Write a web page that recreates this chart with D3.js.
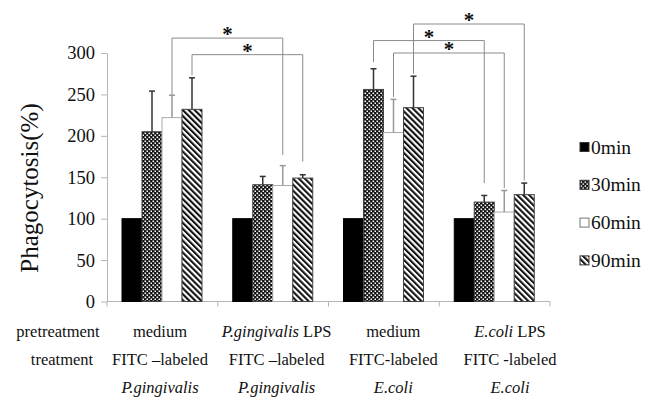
<html>
<head>
<script src="https://d3js.org/d3.v7.min.js"></script>
<style>
  body { margin: 0; background: #fff; }
</style>
</head>
<body>
<svg width="648" height="400"></svg>
<script>
// groups along the x axis
const categories = ["medium / P.gingivalis", "P.gingivalis LPS / P.gingivalis", "medium / E.coli", "E.coli LPS / E.coli"];
const series = ["0min", "30min", "60min", "90min"];

// bar heights (%) per series
const v0  = [100, 100, 100, 100];
const v30 = [205, 141, 256, 120];
const v60 = [222, 140, 204, 108];
const v90 = [232, 149, 234, 129];

// upper error (SD) per series
const e0  = [0, 0, 0, 0];
const e30 = [49, 10, 25, 8];
const e60 = [27, 24, 40, 26];
const e90 = [38, 4, 38, 14];

const yTicks = [0, 50, 100, 150, 200, 250, 300];

// labels under the axis, [text, italic]
const pretreatment = [
  [["medium", false]],
  [["P.gingivalis", true], [" LPS", false]],
  [["medium", false]],
  [["E.coli", true], [" LPS", false]]
];
const treatment = ["FITC \u2013labeled", "FITC \u2013labeled", "FITC-labeled", "FITC -labeled"];
const organism = ["P.gingivalis", "P.gingivalis", "E.coli", "E.coli"];

// significance brackets: group/series ends, bracket height, leg bottoms (in %)
const brackets = [
  { g1: 0, g2: 1, s: "60min", top: 318, left: 249, right: 177 },
  { g1: 0, g2: 1, s: "90min", top: 298, left: 273, right: 169 },
  { g1: 2, g2: 3, s: "30min", top: 315, left: 289, right: 143 },
  { g1: 2, g2: 3, s: "60min", top: 300, left: 247, right: 137 },
  { g1: 2, g2: 3, s: "90min", top: 335, left: 275, right: 146 }
];

const values = [v0, v30, v60, v90];
const errs = [e0, e30, e60, e90];

const serif = "'Liberation Serif', 'Times New Roman', Times, serif";
const ink = "#111";

const svg = d3.select("svg");
const defs = svg.append("defs");

// checker pattern for 30min
const chk = defs.append("pattern").attr("id", "chk")
  .attr("patternUnits", "userSpaceOnUse").attr("width", 4).attr("height", 4);
chk.append("rect").attr("width", 4).attr("height", 4).attr("fill", "#111");
chk.append("rect").attr("x", 0.5).attr("y", 0.5).attr("width", 1.6).attr("height", 1.6).attr("fill", "#fff");
chk.append("rect").attr("x", 2.5).attr("y", 2.5).attr("width", 1.6).attr("height", 1.6).attr("fill", "#fff");

// diagonal stripes for 90min
const str = defs.append("pattern").attr("id", "str")
  .attr("patternUnits", "userSpaceOnUse").attr("width", 4.2).attr("height", 4.2)
  .attr("patternTransform", "rotate(-45)");
str.append("rect").attr("width", 4.2).attr("height", 4.2).attr("fill", "#fff");
str.append("rect").attr("width", 2.1).attr("height", 4.2).attr("fill", "#111");

const fills = { "0min": "#000", "30min": "url(#chk)", "60min": "#fff", "90min": "url(#str)" };
const strokes = { "0min": "#000", "30min": "#444", "60min": "#aaa", "90min": "#444" };
const errColor = { "0min": "#333", "30min": "#333", "60min": "#999", "90min": "#333" };

const x = d3.scaleBand().domain(categories).range([107, 550]);
const xs = d3.scaleBand().domain(series).range([15, 95]);
const y = d3.scaleLinear().domain([0, 300]).range([301.5, 53]);
const xl = d3.scalePoint().domain(categories).range([160, 510]);

// y axis
const yAxis = svg.append("g").attr("transform", "translate(107,0)")
  .call(d3.axisLeft(y).tickValues(yTicks).tickSize(6).tickPadding(6).tickSizeOuter(0));
yAxis.select(".domain").attr("stroke", "#b5b5b5");
yAxis.selectAll(".tick line").attr("stroke", "#b5b5b5");
yAxis.selectAll(".tick text")
  .attr("font-family", null).attr("font-size", null)
  .style("font-family", serif).style("font-size", "18.5px").attr("fill", ink);

// x axis line with boundary ticks
const xa = svg.append("g");
xa.append("line").attr("x1", x.range()[0]).attr("x2", x.range()[1])
  .attr("y1", y(0)).attr("y2", y(0)).attr("stroke", "#b5b5b5");
xa.selectAll(".xt").data(categories.map(c => x(c)).concat([x.range()[1]]))
  .join("line").attr("class", "xt")
  .attr("x1", d => d).attr("x2", d => d)
  .attr("y1", y(0)).attr("y2", y(0) + 5).attr("stroke", "#b5b5b5");

// bars
const rows = [];
series.forEach((s, si) => categories.forEach((c, ci) => {
  rows.push({ c, s, v: values[si][ci], e: errs[si][ci] });
}));

const bx = d => x(d.c) + xs(d.s);

svg.append("g").selectAll("rect").data(rows).join("rect")
  .attr("x", bx).attr("width", xs.bandwidth())
  .attr("y", d => y(d.v)).attr("height", d => y(0) - y(d.v))
  .attr("fill", d => fills[d.s]).attr("stroke", d => strokes[d.s]).attr("stroke-width", 1);

// error bars
const eb = svg.append("g").selectAll("g").data(rows.filter(d => d.e > 0)).join("g");
eb.append("line")
  .attr("x1", d => bx(d) + xs.bandwidth() / 2).attr("x2", d => bx(d) + xs.bandwidth() / 2)
  .attr("y1", d => y(d.v)).attr("y2", d => y(d.v + d.e))
  .attr("stroke", d => errColor[d.s]).attr("stroke-width", 1.5);
eb.append("line")
  .attr("x1", d => bx(d) + xs.bandwidth() / 2 - 3).attr("x2", d => bx(d) + xs.bandwidth() / 2 + 3)
  .attr("y1", d => y(d.v + d.e)).attr("y2", d => y(d.v + d.e))
  .attr("stroke", d => errColor[d.s]).attr("stroke-width", 1.5);

// significance brackets
const cx = (gi, s) => x(categories[gi]) + xs(s) + xs.bandwidth() / 2;
const br = svg.append("g").selectAll("g").data(brackets).join("g");
br.append("path")
  .attr("d", d => `M${cx(d.g1, d.s)},${y(d.left)}V${y(d.top)}H${cx(d.g2, d.s)}V${y(d.right)}`)
  .attr("fill", "none").attr("stroke", "#8a8a8a").attr("stroke-width", 1);
br.append("text")
  .attr("x", d => (cx(d.g1, d.s) + cx(d.g2, d.s)) / 2)
  .attr("y", d => y(d.top) + 3)
  .attr("text-anchor", "middle")
  .style("font-family", serif).style("font-size", "21px").style("font-weight", "bold")
  .attr("fill", ink).text("*");

// y label
svg.append("text")
  .attr("transform", "translate(38,188) rotate(-90)")
  .attr("text-anchor", "middle")
  .style("font-family", serif).style("font-size", "25px").attr("fill", ink)
  .text("Phagocytosis(%)");

// category labels
const lab = svg.append("g").attr("text-anchor", "middle");
const tx = sel => sel.style("font-family", serif).style("font-size", "16.5px").attr("fill", ink);

lab.append("text").attr("x", 58).attr("y", 337).call(tx).text("pretreatment");
lab.append("text").attr("x", 62).attr("y", 365).call(tx).text("treatment");

const pre = lab.selectAll(".pre").data(categories).join("text").attr("class", "pre")
  .attr("x", d => xl(d)).attr("y", 337).call(tx);
pre.selectAll("tspan").data((d, i) => pretreatment[i]).join("tspan")
  .style("font-family", serif)
  .style("font-style", d => d[1] ? "italic" : "normal").text(d => d[0]);

lab.selectAll(".trt").data(categories).join("text").attr("class", "trt")
  .attr("x", d => xl(d)).attr("y", 365).call(tx).text((d, i) => treatment[i]);

lab.selectAll(".org").data(categories).join("text").attr("class", "org")
  .attr("x", d => xl(d)).attr("y", 393).call(tx)
  .style("font-style", "italic").text((d, i) => organism[i]);

// legend
const lg = svg.append("g").selectAll("g").data(series).join("g")
  .attr("transform", (d, i) => `translate(580,${147 + i * 37.8})`);
lg.append("rect").attr("x", 0).attr("y", -4.5).attr("width", 9).attr("height", 9)
  .attr("fill", d => fills[d]).attr("stroke", d => d === "60min" ? "#777" : "#333").attr("stroke-width", 1);
lg.append("text").attr("x", 11).attr("y", 6.5)
  .style("font-family", serif).style("font-size", "19.5px").attr("fill", ink).text(d => d);
</script>
</body>
</html>
